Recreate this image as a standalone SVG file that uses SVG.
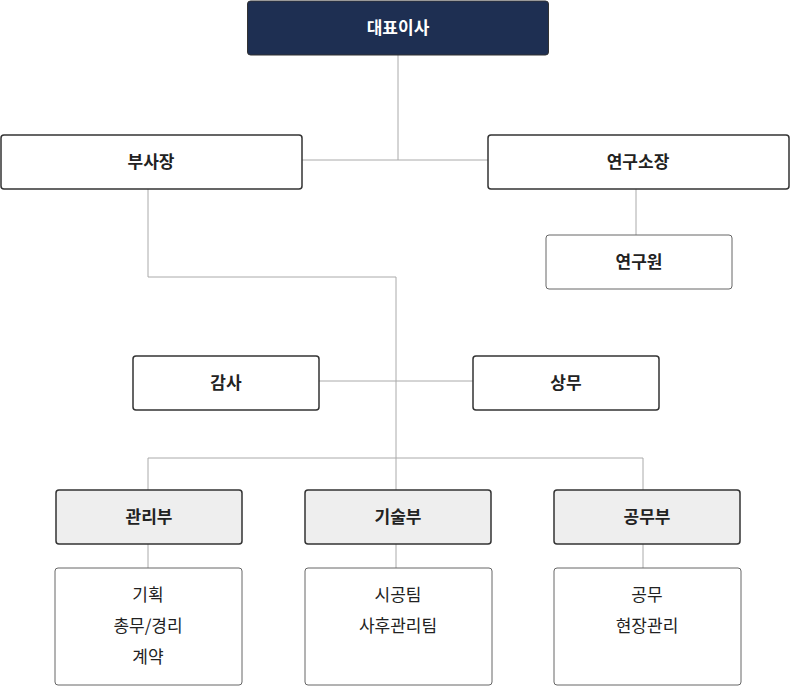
<svg xmlns="http://www.w3.org/2000/svg" width="790" height="686" viewBox="0 0 790 686">
<style>
text{font-family:"Noto Sans CJK KR","Noto Sans",sans-serif;font-size:17px;fill:#222;text-anchor:middle;dominant-baseline:central}
.b{font-weight:bold}
.w{fill:#fff}
.box{fill:#fff;stroke:#333;stroke-width:1.5}
.sub{fill:#fff;stroke:#666;stroke-width:1}
.dep{fill:#eee;stroke:#333;stroke-width:1.5}
.c line,.c polyline{stroke:#aaa;stroke-width:1;fill:none}
</style>
<rect width="790" height="686" fill="#fff"/>
<g class="c" id="connectors">
<line x1="398" y1="55" x2="398" y2="160"/>
<line x1="302" y1="160" x2="488" y2="160"/>
<line x1="636" y1="189" x2="636" y2="235"/>
<polyline points="148,189 148,277 396,277 396,490"/>
<line x1="319" y1="381" x2="473" y2="381"/>
<polyline points="148,490 148,458 643,458 643,490"/>
<line x1="148" y1="544" x2="148" y2="568"/>
<line x1="396" y1="544" x2="396" y2="568"/>
<line x1="643" y1="544" x2="643" y2="568"/>
</g>
<g id="ceo"><rect x="247.5" y="1" width="301" height="54" rx="3" fill="#1e2f52" stroke="#333"/><text class="b w" x="398" y="26">대표이사</text></g>
<g id="vp"><rect class="box" x="1" y="135" width="301" height="54" rx="3"/><text class="b" x="151" y="160">부사장</text></g>
<g id="lab"><rect class="box" x="488" y="135" width="301" height="54" rx="3"/><text class="b" x="638" y="160">연구소장</text></g>
<g id="researcher"><rect class="sub" x="546" y="235" width="186" height="54" rx="3"/><text class="b" x="639" y="260">연구원</text></g>
<g id="audit"><rect class="box" x="133" y="356" width="186" height="54" rx="3"/><text class="b" x="226" y="381">감사</text></g>
<g id="md"><rect class="box" x="473" y="356" width="186" height="54" rx="3"/><text class="b" x="566" y="381">상무</text></g>
<g id="mgmt"><rect class="dep" x="56" y="490" width="186" height="54" rx="3"/><text class="b" x="149" y="515">관리부</text></g>
<g id="tech"><rect class="dep" x="305" y="490" width="186" height="54" rx="3"/><text class="b" x="398" y="515">기술부</text></g>
<g id="works"><rect class="dep" x="554" y="490" width="186" height="54" rx="3"/><text class="b" x="647" y="515">공무부</text></g>
<g id="mgmt-sub"><rect class="sub" x="55" y="568" width="187" height="117" rx="3"/><text x="148" y="593">기획</text><text x="148" y="624">총무/경리</text><text x="148" y="655">계약</text></g>
<g id="tech-sub"><rect class="sub" x="305" y="568" width="187" height="117" rx="3"/><text x="398" y="593">시공팀</text><text x="398" y="624">사후관리팀</text></g>
<g id="works-sub"><rect class="sub" x="554" y="568" width="187" height="117" rx="3"/><text x="647" y="593">공무</text><text x="647" y="624">현장관리</text></g>
</svg>
